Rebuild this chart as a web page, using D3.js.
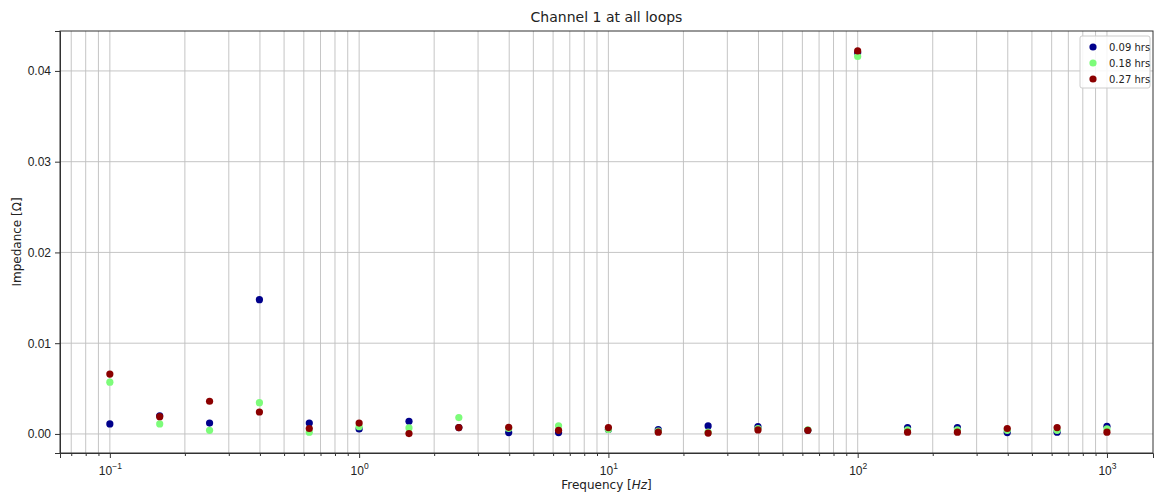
<!DOCTYPE html>
<html>
<head>
<meta charset="utf-8">
<script src="https://cdn.jsdelivr.net/npm/d3@7"></script>
<style>
  body { margin: 0; background: #fff; }
  svg { font-family: "DejaVu Sans", sans-serif; }
</style>
</head>
<body>
<div id="chart"></div>
<script>
const frequencies = [0.1, 0.1585, 0.2512, 0.3981, 0.631, 1, 1.585, 2.512, 3.981, 6.31,
  10, 15.85, 25.12, 39.81, 63.1, 100, 158.5, 251.2, 398.1, 631, 1000];
const seriesNames = ['0.09 hrs', '0.18 hrs', '0.27 hrs'];
const seriesColors = ['#00008b', '#7dfc7a', '#8b0000'];
const hrs009 = [0.0011, 0.0020, 0.0012, 0.0148, 0.0012, 0.00055, 0.0014, 0.0007, 0.00015, 0.00015,
  0.0005, 0.00047, 0.00088, 0.0008, 0.0004, 0.0420, 0.0007, 0.0007, 0.00015, 0.0002, 0.00085];
const hrs018 = [0.0057, 0.0011, 0.0004, 0.00345, 0.0002, 0.0008, 0.00066, 0.0018, 0.0006, 0.0009,
  0.0005, 0.0003, 0.0002, 0.0006, 0.00045, 0.0416, 0.00045, 0.00045, 0.0004, 0.0004, 0.00055];
const hrs027 = [0.0066, 0.0019, 0.0036, 0.00242, 0.0006, 0.0012, 0.00004, 0.0007, 0.00073, 0.0004,
  0.0007, 0.0002, 0.0001, 0.00044, 0.0004, 0.0422, 0.0002, 0.0002, 0.0006, 0.0007, 0.0002];
const seriesValues = [hrs009, hrs018, hrs027];
const yTicks = [0, 0.01, 0.02, 0.03, 0.04];
const xTicks = [0.1, 1, 10, 100, 1000];

const width = 1155, height = 494;
const margin = { top: 31, right: 2, bottom: 41, left: 60 };

const svg = d3.select('#chart').append('svg')
  .attr('width', width)
  .attr('height', height);

const x = d3.scaleLog()
  .domain([0.0631, 1530])
  .range([margin.left, width - margin.right]);

const y = d3.scaleLinear()
  .domain([-0.0021, 0.0444])
  .range([height - margin.bottom, margin.top]);

// minor ticks: 2..9 per decade inside the domain
const minorTicks = [];
for (let e = -2; e <= 3; e++) {
  for (let m = 1; m <= 9; m++) {
    const v = m * Math.pow(10, e);
    if (v > x.domain()[0] && v < x.domain()[1]) minorTicks.push(v);
  }
}

const grid = svg.append('g').attr('stroke', '#b0b0b0').attr('stroke-width', 0.9).attr('opacity', 0.8);
grid.selectAll('.vx')
  .data(minorTicks)
  .enter().append('line')
  .attr('x1', d => x(d)).attr('x2', d => x(d))
  .attr('y1', margin.top).attr('y2', height - margin.bottom);
grid.selectAll('.hy')
  .data(yTicks)
  .enter().append('line')
  .attr('x1', margin.left).attr('x2', width - margin.right)
  .attr('y1', d => y(d)).attr('y2', d => y(d));

// axes
const xAxis = svg.append('g')
  .attr('transform', `translate(0,${height - margin.bottom})`)
  .call(d3.axisBottom(x).tickValues(xTicks).tickFormat('').tickSize(5));
xAxis.selectAll('.tick').each(function(d) {
  const t = d3.select(this).append('text')
    .attr('y', 22).attr('text-anchor', 'middle')
    .attr('font-size', 12).attr('fill', '#222');
  t.append('tspan').text('10');
  t.append('tspan').attr('dy', -6).attr('font-size', 8.5)
    .text(String(Math.round(Math.log10(d))).replace('-', '\u2212'));
});
svg.append('g')
  .attr('transform', `translate(0,${height - margin.bottom})`)
  .call(d3.axisBottom(x).tickValues(minorTicks.filter(v => !xTicks.includes(v))).tickFormat('').tickSize(3))
  .call(g => g.select('.domain').remove());

const yAxis = svg.append('g')
  .attr('transform', `translate(${margin.left},0)`)
  .call(d3.axisLeft(y).tickValues(yTicks).tickFormat(d3.format('.2f')).tickSize(5).tickPadding(4));

yAxis.selectAll('.tick text').attr('font-size', 12).attr('fill', '#222');
svg.selectAll('.domain, .tick line').attr('stroke', '#333');

// frame
svg.append('rect')
  .attr('x', margin.left).attr('y', margin.top)
  .attr('width', width - margin.left - margin.right)
  .attr('height', height - margin.top - margin.bottom)
  .attr('fill', 'none').attr('stroke', '#333').attr('stroke-width', 1);

// points
seriesValues.forEach((vals, i) => {
  svg.append('g').selectAll('circle')
    .data(vals.map((v, j) => [frequencies[j], v]))
    .enter().append('circle')
    .attr('cx', d => x(d[0]))
    .attr('cy', d => y(d[1]))
    .attr('r', 3.6)
    .attr('fill', seriesColors[i]);
});

// title and labels
svg.append('text')
  .attr('x', (margin.left + width - margin.right) / 2).attr('y', 22)
  .attr('text-anchor', 'middle').attr('font-size', 14).attr('fill', '#222')
  .text('Channel 1 at all loops');

const xl = svg.append('text')
  .attr('x', (margin.left + width - margin.right) / 2).attr('y', 489)
  .attr('text-anchor', 'middle').attr('font-size', 12).attr('fill', '#222');
xl.append('tspan').text('Frequency [');
xl.append('tspan').attr('font-style', 'italic').text('Hz');
xl.append('tspan').text(']');

svg.append('text')
  .attr('transform', `translate(21,${(margin.top + height - margin.bottom) / 2}) rotate(-90)`)
  .attr('text-anchor', 'middle').attr('font-size', 12).attr('fill', '#222')
  .text('Impedance [\u03A9]');

// legend
const legend = svg.append('g').attr('transform', 'translate(1080,36)');
legend.append('rect')
  .attr('width', 70).attr('height', 52).attr('rx', 2)
  .attr('fill', '#fff').attr('fill-opacity', 0.85)
  .attr('stroke', '#ccc');
seriesNames.forEach((name, i) => {
  const row = legend.append('g').attr('transform', `translate(0,${11 + i * 16})`);
  row.append('circle').attr('cx', 13).attr('cy', 0).attr('r', 3.6).attr('fill', seriesColors[i]);
  row.append('text').attr('x', 29).attr('y', 3.5).attr('font-size', 10).attr('fill', '#222').text(name);
});
</script>
</body>
</html>
